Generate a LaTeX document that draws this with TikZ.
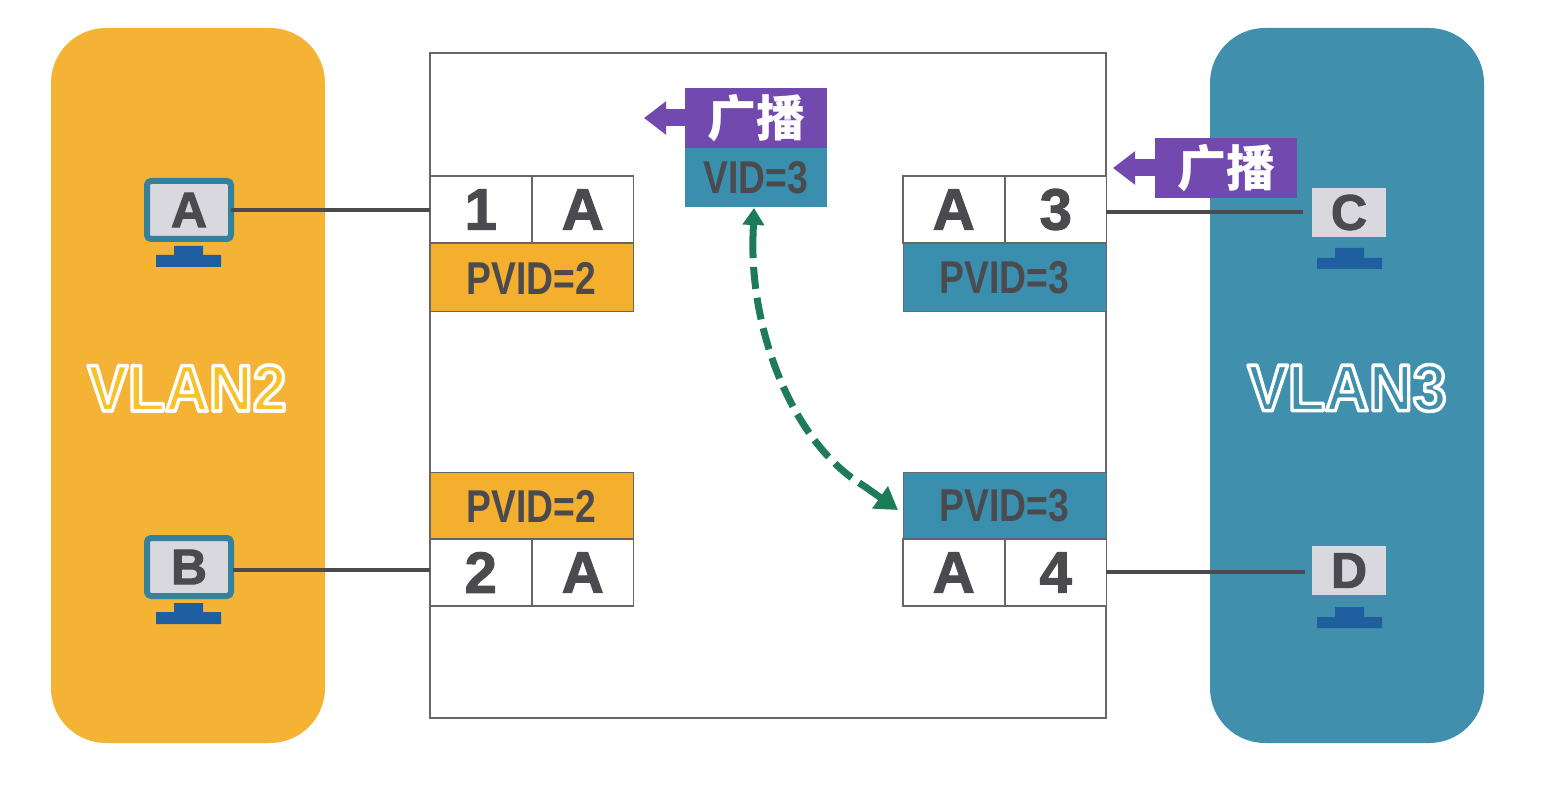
\documentclass[tikz,border=0pt]{standalone}
\usepackage{fontspec}
\setmainfont{Liberation Sans}
\newfontfamily\cjk{Noto Sans CJK SC}
\newfontfamily\heavy{Liberation Sans}[UprightFont=* Bold,FakeBold=2]
\usetikzlibrary{arrows.meta}
\definecolor{orangeV}{HTML}{F5B335}
\definecolor{orangeP}{HTML}{F5AF2E}
\definecolor{tealV}{HTML}{3F8FAD}
\definecolor{tealP}{HTML}{3A8FAE}
\definecolor{greyT}{HTML}{4A4A4F}
\definecolor{greyL}{HTML}{666666}
\definecolor{purp}{HTML}{7249AE}
\definecolor{greenA}{HTML}{1E7B5A}
\definecolor{standB}{HTML}{1F5F9F}
\definecolor{screen}{HTML}{D8D8DE}
\newcommand{\narrow}[1]{\scalebox{0.81}[1]{#1}}
\newcommand{\hollow}[1]{\special{pdf:code 2 Tr 3.6 w 1 1 1 RG 1 j}#1\special{pdf:code 0 Tr 1 w 0 0 0 RG}}
\tikzset{
  x=1pt,y=-1pt,
  every node/.style={inner sep=0pt,outer sep=0pt},
  vlanbox/.style={rounded corners=55pt,anchor=north west,minimum width=274pt,minimum height=715pt},
  cell/.style={draw=greyL,line width=1.8pt,fill=white,anchor=north west,minimum width=101.5pt,minimum height=67pt,
    font=\heavy\fontsize{58}{58}\selectfont,text=greyT},
  pvid/.style={draw=greyL,line width=1pt,anchor=north west,minimum width=203pt,minimum height=68pt,
    font=\fontsize{46}{46}\bfseries,text=greyT},
  cast/.style={fill=purp,anchor=north west,minimum width=142pt,minimum height=60pt,text=white,
    font=\cjk\bfseries\fontsize{49}{49}\selectfont},
  monitor/.style={draw=tealP!90!black,line width=6pt,fill=screen,rounded corners=4pt,anchor=north west,
    minimum width=84pt,minimum height=58pt,font=\heavy\fontsize{50}{50}\selectfont,text=greyT},
  plainmon/.style={fill=screen,anchor=north west,minimum width=74pt,minimum height=49pt,
    font=\heavy\fontsize{50}{50}\selectfont,text=greyT},
  stand/.style={fill=standB},
  wire/.style={draw=greyT,line width=3.5pt},
  castarrow/.style={draw=purp,line width=17pt,-{Triangle[length=22pt,width=32pt]}},
  bcast/.style={draw=greenA,line width=7pt,dash pattern=on 22pt off 9pt},
  tipline/.style={draw=greenA,line width=7pt},
  tipup/.style={tipline,-{Triangle[length=17pt,width=21pt]}},
  tipdown/.style={tipline,-{Triangle[length=22pt,width=26pt]}},
  vlantext/.style={font=\fontsize{66}{66}\bfseries}
}
\begin{document}
\begin{tikzpicture}
\useasboundingbox[fill=white] (0,0) rectangle (1542,802);
% VLAN areas
\node[vlanbox,fill=orangeV] (v2) at (51,28) {};
\node[vlanbox,fill=tealV] (v3) at (1210,28) {};
\node[vlantext,text=orangeV!80!yellow] (v2t) at (187,388) {\scalebox{0.92}[1]{\hollow{VLAN2}}};
\node[vlantext,text=tealV] (v3t) at (1347,388) {\scalebox{0.92}[1]{\hollow{VLAN3}}};
% switch
\node[draw=greyL,line width=2pt,anchor=north west,minimum width=676pt,minimum height=665pt] (sw) at (430,53) {};
% port 1
\node[cell] (p1n) at (430,176) {1};
\node[cell] (p1a) at (532,176) {A};
\node[pvid,fill=orangeP] (p1v) at (430,244) {\narrow{PVID=2}};
% port 2
\node[pvid,fill=orangeP] (p2v) at (430,472) {\narrow{PVID=2}};
\node[cell] (p2n) at (430,539) {2};
\node[cell] (p2a) at (532,539) {A};
% port 3
\node[cell] (p3a) at (903,176) {A};
\node[cell] (p3n) at (1005,176) {3};
\node[pvid,fill=tealP] (p3v) at (903,244) {\narrow{PVID=3}};
% port 4
\node[pvid,fill=tealP] (p4v) at (903,472) {\narrow{PVID=3}};
\node[cell] (p4a) at (903,539) {A};
\node[cell] (p4n) at (1005,539) {4};
% broadcast frames
\node[cast] (c1) at (685,88) {广播};
\node[fill=tealP,anchor=north west,minimum width=142pt,minimum height=59pt,font=\fontsize{46}{46}\bfseries,text=greyT] (vid) at (685,148) {\narrow{VID=3}};
\node[cast] (c2) at (1155,138) {广播};
\coordinate (c1e) at (644,118);
\coordinate (c2e) at (1113,168);
\draw[castarrow] (c1.west) -- (c1e);
\draw[castarrow] (c2.west) -- (c2e);
% hosts
\node[monitor] (a) at (147,181) {A};
\node[monitor] (b) at (147,538) {B};
\node[plainmon] (c) at (1312,188) {C};
\node[plainmon] (d) at (1312,546) {D};
% stands
\fill[stand] (174,246) rectangle (203,255) (156,255) rectangle (221,267);
\fill[stand] (174,603) rectangle (203,612) (156,612) rectangle (221,624);
\fill[stand] (1335,248) rectangle (1364,258) (1317,258) rectangle (1382,269);
\fill[stand] (1335,607) rectangle (1364,617) (1317,617) rectangle (1382,628);
% wires
\coordinate (cw) at (1303,212);
\coordinate (dw) at (1305,572);
\coordinate (bw) at (233,570);
\draw[wire] (a.east) -- (a.east -| sw.west);
\draw[wire] (bw) -- (bw -| sw.west);
\draw[wire] (sw.east |- cw) -- (cw);
\draw[wire] (sw.east |- dw) -- (dw);
% dashed link
\coordinate (gs) at (754,208);
\coordinate (gs1) at (753,236);
\coordinate (ge) at (898,510);
\coordinate (ge1) at (864,486);
\draw[bcast] (gs1) .. controls (750,335) and (795,445) .. (ge1);
\draw[tipup] (gs1) -- (gs);
\draw[tipdown] (ge1) -- (ge);
\end{tikzpicture}
\end{document}
